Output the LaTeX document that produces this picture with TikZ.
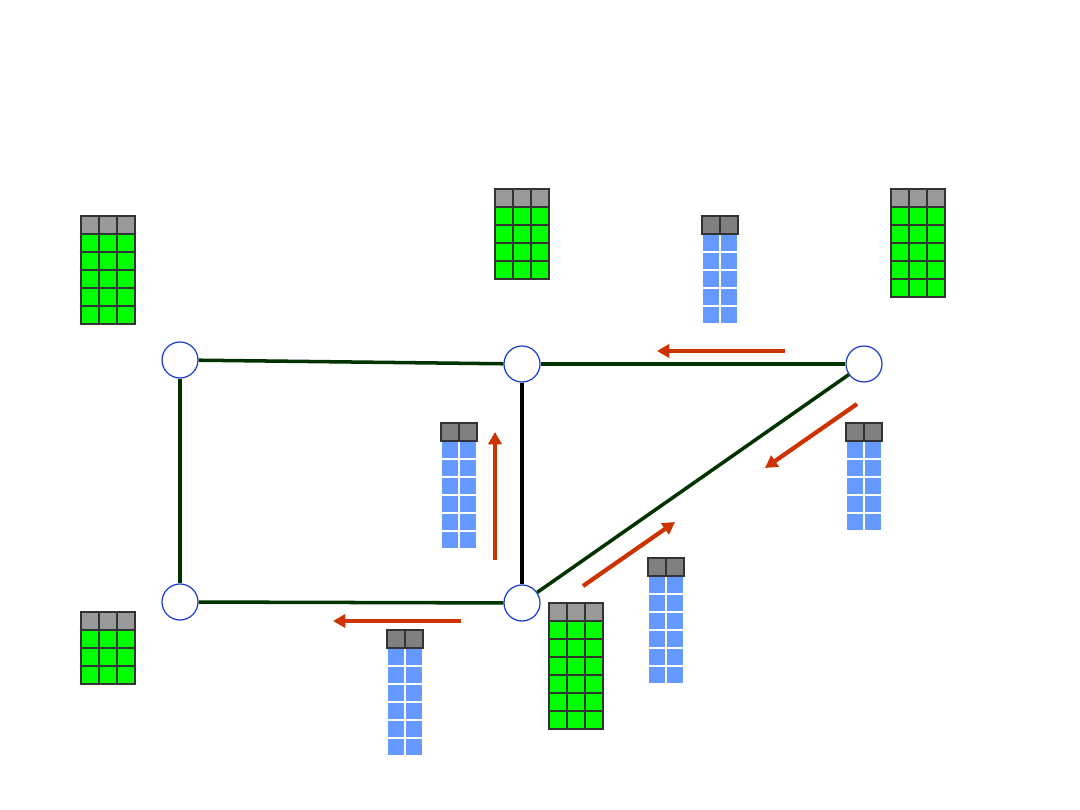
\documentclass[tikz,border=0pt]{standalone}
\usepackage{tikz}
\usetikzlibrary{arrows.meta,positioning}

\definecolor{linkgreen}{HTML}{003300}
\definecolor{flowred}{HTML}{CC3300}
\definecolor{ringblue}{HTML}{1A3FD0}
\definecolor{tabgreen}{HTML}{00FF00}
\definecolor{tabblue}{HTML}{6699FF}
\definecolor{hdrlight}{HTML}{999999}
\definecolor{hdrdark}{HTML}{808080}
\definecolor{gridgray}{HTML}{333333}

% full routing table: 3 columns, #3 rows below the header
\newcommand{\fulltable}[3]{%
  \foreach \i in {0,1,2}{
    \draw[gridcell, fill=hdrlight] ({#1+18*\i},#2) rectangle ++(18,18);
    \foreach \j in {1,...,#3}
      \draw[gridcell, fill=tabgreen] ({#1+18*\i},{#2+18*\j}) rectangle ++(18,18);
  }}

% update message: 2 columns, #3 rows below the header
\newcommand{\msgtable}[3]{%
  \foreach \i in {0,1}{
    \foreach \j in {1,...,#3}
      \draw[msgcell] ({#1+18*\i},{#2+18*\j}) rectangle ++(18,18);
    \draw[gridcell, fill=hdrdark] ({#1+18*\i},#2) rectangle ++(18,18);
  }}

\begin{document}
\begin{tikzpicture}[x=0.02cm, y=-0.02cm,
    router/.style={circle, draw=ringblue, line width=0.7pt, fill=white,
    minimum size=0.72cm, inner sep=0pt},
    link/.style={draw=linkgreen, line width=2pt},
    gridcell/.style={draw=gridgray, line width=0.8pt},
    msgcell/.style={draw=white, line width=0.9pt, fill=tabblue},
    flow/.style={-{Triangle[length=7pt, width=7.5pt]}, draw=flowred,
    line width=2.4pt}]

    \useasboundingbox (0,0) rectangle (1080,810);

    % Routers
    \node[router] (nw) at (180,360) {};
    \node[router] (nm) at (522,364) {};
    \node[router] (ne) at (864,364) {};
    \node[router] (sw) at (180,602) {};
    \node[router] (sm) at (522,603) {};

    % Links
    \draw[link] (nw) -- (nm);
    \draw[link] (nm) -- (ne);
    \draw[link] (nw) -- (sw);
    \draw[link] (sw) -- (sm);
    \draw[link] (ne) -- (sm);
    \draw[line width=2.6pt] (nm) -- (sm);

    % Routing tables
    \fulltable{81}{216}{5}
    \fulltable{495}{189}{4}
    \fulltable{891}{189}{5}
    \fulltable{81}{612}{3}
    \fulltable{549}{603}{6}

    % Update messages
    \msgtable{702}{216}{5}
    \msgtable{441}{423}{6}
    \msgtable{846}{423}{5}
    \msgtable{648}{558}{6}
    \msgtable{387}{630}{6}

    % Message directions
    \coordinate (f1s) at (785,351);
    \coordinate (f1e) at (657,351);
    \coordinate (f2s) at (857,404);
    \coordinate (f2e) at (765,468);
    \coordinate (f3s) at (495,560);
    \coordinate (f3e) at (495,432);
    \coordinate (f4s) at (583,586);
    \coordinate (f4e) at (675,522);
    \coordinate (f5s) at (461,621);
    \coordinate (f5e) at (333,621);

    \draw[flow] (f1s) -- (f1e);
    \draw[flow] (f2s) -- (f2e);
    \draw[flow] (f3s) -- (f3e);
    \draw[flow] (f4s) -- (f4e);
    \draw[flow] (f5s) -- (f5e);
\end{tikzpicture}
\end{document}
